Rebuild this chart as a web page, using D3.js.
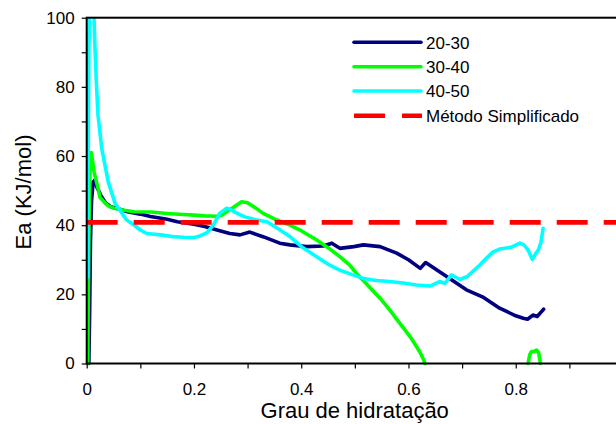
<!DOCTYPE html>
<html>
<head>
<meta charset="utf-8">
<script src="https://cdn.jsdelivr.net/npm/d3@7"></script>
<style>
  html, body { margin: 0; padding: 0; background: #fff; }
  svg { display: block; font-family: "Liberation Sans", Arial, sans-serif; }
</style>
</head>
<body>
<svg id="chart" width="616" height="424"></svg>
<script>
// ---- data ----
const seriesNames = ["20-30", "30-40", "40-50", "Método Simplificado"];
const seriesColors = ["#000080", "#00ff00", "#00ffff", "#ff0000"];

const x2030 = [0.004,0.0055,0.007,0.009,0.012,0.015,0.019,0.026,0.035,0.045,0.057,0.076,0.1,0.119,0.15,0.169,0.2,0.22,0.248,0.267,0.286,0.304,0.33,0.36,0.379,0.41,0.441,0.457,0.472,0.498,0.516,0.547,0.578,0.6,0.622,0.632,0.66,0.708,0.74,0.77,0.8,0.814,0.822,0.832,0.84,0.848,0.852];
const y2030 = [0,15,35,47,52.5,53,51,48.7,46.5,45.3,44.8,43.9,43.2,42.5,41.7,41,40.3,39.6,38.4,37.6,37.2,38,36.6,34.8,34.3,33.8,34,34.8,33.3,33.8,34.3,33.8,31.9,30,27.5,29.2,26.3,21.3,19.1,16,13.8,13.1,12.8,14,13.6,15,15.7];

const x3040 = [0.002,0.003,0.004,0.005,0.0065,0.0086,0.011,0.0136,0.0197,0.025,0.032,0.04,0.051,0.07,0.088,0.12,0.15,0.18,0.2,0.22,0.242,0.252,0.261,0.275,0.289,0.3,0.315,0.329,0.35,0.379,0.4,0.429,0.45,0.472,0.49,0.503,0.525,0.547,0.565,0.584,0.603,0.621,0.627,0.631];
const y3040 = [0,20,35,48,57,61,58.5,55.5,51.6,48,46.8,45.6,44.9,44.3,43.9,43.8,43.4,43.1,42.9,42.7,42.6,42.9,43.9,45.3,46.8,46.5,45,43.4,41.8,40,38.4,35.7,33.5,30.9,28.5,26.1,22.5,18.9,15.5,11.6,7.8,3.4,1.5,0];
const x3040b = [0.823,0.826,0.829,0.834,0.839,0.843,0.846];
const y3040b = [0,2.5,3.4,3.5,3.9,3,0];

const x4050 = [0.0022,0.0028,0.004,0.0052,0.007,0.009,0.011,0.0136,0.0155,0.018,0.021,0.028,0.04,0.053,0.0745,0.087,0.1,0.112,0.138,0.16,0.181,0.2,0.211,0.224,0.236,0.248,0.261,0.268,0.277,0.295,0.315,0.336,0.355,0.379,0.402,0.429,0.45,0.472,0.495,0.516,0.54,0.565,0.59,0.615,0.64,0.658,0.668,0.68,0.696,0.71,0.733,0.747,0.758,0.77,0.791,0.808,0.816,0.823,0.831,0.836,0.842,0.847,0.851];
const y4050 = [25,60,90,100,112,115,110,100,91,81.4,71.9,62.2,52.6,46.3,41.5,40.2,38.6,37.6,37.2,36.7,36.5,36.4,36.9,37.8,40,43.4,44.9,44.6,43.7,42.4,41.6,41,39.2,36.7,33.6,30.9,28.7,27,25.7,24.6,24,23.7,23.3,22.7,22.4,23.7,23.2,25.6,24.3,25.2,28.5,30.7,32.3,33.1,33.6,34.8,34.2,32.8,30.1,31.5,32.8,35,39.1];

const simplifiedValue = 40.8;

const xTicksMajor = [0, 0.2, 0.4, 0.6, 0.8];
const xTicksMinor = [0, 0.1, 0.2, 0.3, 0.4, 0.5, 0.6, 0.7, 0.8, 0.9, 1.0];
const yTicksMajor = [0, 20, 40, 60, 80, 100];
const yTicksMinor = [0, 10, 20, 30, 40, 50, 60, 70, 80, 90, 100];

// ---- layout ----
const svg = d3.select("#chart");
const pL = 86.7, pR = 623, pT = 17.7, pB = 363.5;

const x = d3.scaleLinear().domain([0, 1]).range([pL, pR]);
const y = d3.scaleLinear().domain([0, 100]).range([pB, pT]);

svg.append("defs").append("clipPath").attr("id", "clip")
  .append("rect").attr("x", pL).attr("y", pT).attr("width", pR - pL).attr("height", pB - pT + 3);

const zip = (xs, ys) => xs.map((v, i) => [v, ys[i]]);
const lineLin = d3.line().x(d => x(d[0])).y(d => y(d[1]));

const plot = svg.append("g").attr("clip-path", "url(#clip)");

function drawSeries(data, color) {
  plot.append("path").datum(data)
    .attr("fill", "none").attr("stroke", color)
    .attr("stroke-width", 3.6).attr("stroke-linejoin", "round").attr("stroke-linecap", "round")
    .attr("d", lineLin);
}
drawSeries(zip(x2030, y2030), seriesColors[0]);
drawSeries(zip(x3040, y3040), seriesColors[1]);
drawSeries(zip(x3040b, y3040b), seriesColors[1]);
drawSeries(zip(x4050, y4050), seriesColors[2]);

plot.append("line")
  .attr("x1", x(0)).attr("x2", x(1))
  .attr("y1", y(simplifiedValue)).attr("y2", y(simplifiedValue))
  .attr("stroke", seriesColors[3]).attr("stroke-width", 4.6)
  .attr("stroke-dasharray", "31,16");

// ---- frame & axes ----
svg.append("rect")
  .attr("x", pL).attr("y", pT).attr("width", pR - pL).attr("height", pB - pT)
  .attr("fill", "none").attr("stroke", "#000").attr("stroke-width", 2);

const xAxisMinor = d3.axisBottom(x).tickValues(xTicksMinor).tickSize(5).tickFormat("");
const gxm = svg.append("g").attr("transform", `translate(0,${pB})`).call(xAxisMinor);
gxm.select(".domain").remove();
gxm.selectAll("line").attr("stroke", "#000").attr("stroke-width", 1.2);

const xAxis = d3.axisBottom(x).tickValues(xTicksMajor).tickSize(0).tickPadding(0)
  .tickFormat(d => d === 0 ? "0" : d3.format(".1f")(d));
const gx = svg.append("g").attr("transform", `translate(0,${pB})`).call(xAxis);
gx.select(".domain").remove();
gx.selectAll("text").attr("font-size", 17).attr("font-family", "Liberation Sans, Arial, sans-serif")
  .attr("fill", "#000").attr("dy", null).attr("y", 31);

const yAxisMinor = d3.axisLeft(y).tickValues(yTicksMinor).tickSize(5).tickFormat("");
const gym = svg.append("g").attr("transform", `translate(${pL},0)`).call(yAxisMinor);
gym.select(".domain").remove();
gym.selectAll("line").attr("stroke", "#000").attr("stroke-width", 1.2);

const yAxis = d3.axisLeft(y).tickValues(yTicksMajor).tickSize(0).tickPadding(12).tickFormat(d3.format("d"));
const gy = svg.append("g").attr("transform", `translate(${pL},0)`).call(yAxis);
gy.select(".domain").remove();
gy.selectAll("text").attr("font-size", 17).attr("font-family", "Liberation Sans, Arial, sans-serif").attr("fill", "#000");

// ---- titles ----
svg.append("text").attr("x", 354.7).attr("y", 418).attr("text-anchor", "middle")
  .attr("font-size", 22).attr("fill", "#000").text("Grau de hidratação");
svg.append("text").attr("transform", "translate(31,192) rotate(-90)").attr("text-anchor", "middle")
  .attr("font-size", 22).attr("fill", "#000").text("Ea (KJ/mol)");

// ---- legend ----
const legendY = [42.3, 66.7, 91, 115.7];
const lg = svg.append("g");
seriesNames.forEach((name, i) => {
  const g = lg.append("g");
  const l = g.append("line").attr("x1", 354).attr("x2", 421).attr("y1", legendY[i]).attr("y2", legendY[i])
    .attr("stroke", seriesColors[i]);
  if (i === 3) {
    l.attr("stroke-width", 4.6).attr("stroke-dasharray", "31,17").attr("x1", 354).attr("x2", 422);
  } else {
    l.attr("stroke-width", 3.6).attr("stroke-linecap", "round");
  }
  g.append("text").attr("x", 426).attr("y", legendY[i] + 6.2).attr("font-size", 17).attr("fill", "#000").text(name);
});
</script>
</body>
</html>
